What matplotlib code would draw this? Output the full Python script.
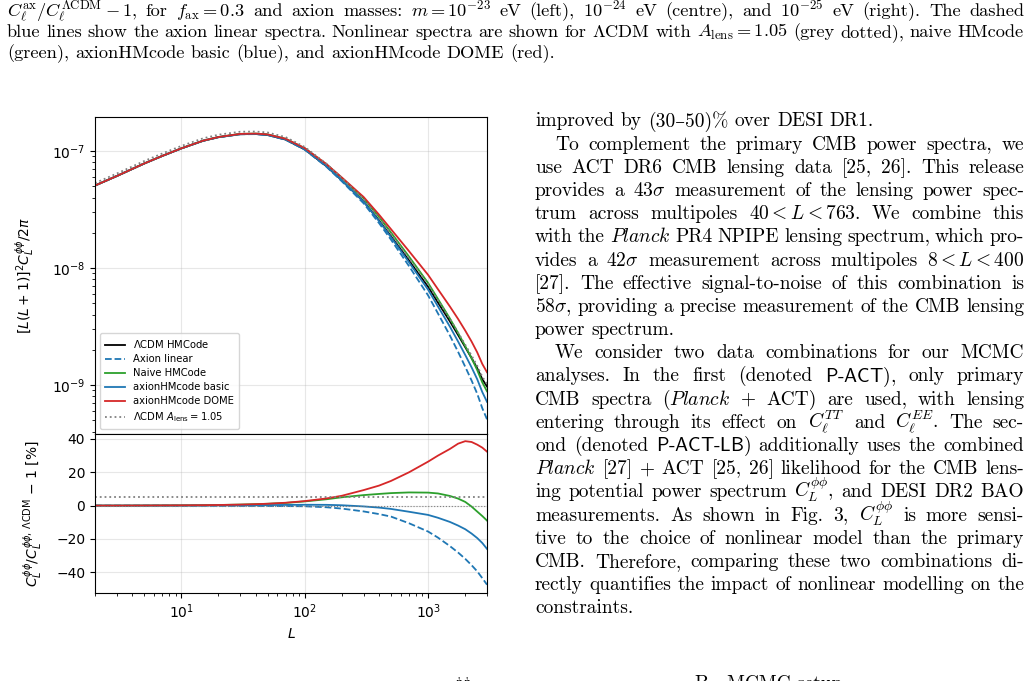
import matplotlib
matplotlib.use('Agg')
import matplotlib.pyplot as plt
import numpy as np

W, H = 1033, 681

# multipoles and the LCDM HMCode lensing spectrum [L(L+1)]^2 C_L / 2pi
L = np.array([2, 3, 5, 7, 10, 15, 20, 30, 40, 50, 70, 100, 150, 200, 300,
              400, 500, 700, 1000, 1200, 1500, 1750, 2000, 2250, 2500, 2750, 3000])
cl_lcdm = np.array([5.06e-8, 6.1e-8, 7.8e-8, 9.05e-8, 1.05e-7, 1.22e-7, 1.31e-7,
                    1.39e-7, 1.395e-7, 1.37e-7, 1.25e-7, 1.03e-7, 7.4e-8, 5.6e-8,
                    3.7e-8, 2.55e-8, 1.87e-8, 1.16e-8, 6.9e-9, 5.07e-9, 3.5e-9,
                    2.67e-9, 2.1e-9, 1.7e-9, 1.39e-9, 1.12e-9, 9.7e-10])

# percentage differences w.r.t. LCDM (bottom panel)
pct_axion_linear = np.array([0, 0, 0, 0, -0.05, -0.05, -0.1, -0.15, -0.2, -0.25, -0.3,
                             -0.4, -1.0, -1.8, -3.5, -5.1, -6.6, -10.6, -15.6, -19.2,
                             -24.3, -28.2, -32.0, -35.8, -39.5, -43.6, -47.5])
pct_naive = np.array([0, 0, 0.05, 0.1, 0.15, 0.25, 0.35, 0.6, 0.85, 1.1, 1.6, 2.5,
                      3.8, 5.0, 6.3, 7.0, 7.5, 7.9, 7.8, 7.3, 5.8, 4.2, 2.2, -0.6,
                      -3.6, -6.3, -9.0])
pct_basic = np.array([0, 0, 0, 0, 0, 0.05, 0.1, 0.15, 0.2, 0.3, 0.4, 0.5, 0.45,
                      0.2, -0.5, -1.2, -2.0, -3.7, -5.6, -7.3, -9.8, -12.0, -14.2,
                      -16.8, -19.5, -22.5, -26.0])
pct_dome = np.array([0, 0, 0.05, 0.1, 0.15, 0.25, 0.35, 0.6, 0.85, 1.1, 1.7, 2.7,
                     4.3, 5.9, 9.3, 12.0, 14.8, 20.0, 26.4, 30.0, 34.0, 37.2, 38.7,
                     38.2, 36.6, 34.8, 32.4])
alens = 1.05

labels = [r'$\Lambda$CDM HMCode', 'Axion linear', 'Naive HMCode',
          'axionHMcode basic', 'axionHMcode DOME', r'$\Lambda$CDM $A_{\rm lens} = 1.05$']

caption = [
    r"$C_\ell^{\mathrm{ax}}/C_\ell^{\Lambda\mathrm{CDM}}-1$, for $f_{\mathrm{ax}}=0.3$ and axion masses: "
    r"$m=10^{-23}$ eV (left), $10^{-24}$ eV (centre), and $10^{-25}$ eV (right). The dashed",
    r"blue lines show the axion linear spectra. Nonlinear spectra are shown for $\Lambda$CDM with "
    r"$A_{\mathrm{lens}}=1.05$ (grey dotted), naive HMcode",
    r"(green), axionHMcode basic (blue), and axionHMcode DOME (red).",
]

body = [
    r"improved by (30–50)% over DESI DR1.",
    r"To complement the primary CMB power spectra, we",
    r"use ACT DR6 CMB lensing data [25, 26]. This release",
    r"provides a $43\sigma$ measurement of the lensing power spec-",
    r"trum across multipoles $40<L<763$. We combine this",
    r"with the $\mathit{Planck}$ PR4 NPIPE lensing spectrum, which pro-",
    r"vides a $42\sigma$ measurement across multipoles $8<L<400$",
    r"[27]. The effective signal-to-noise of this combination is",
    r"$58\sigma$, providing a precise measurement of the CMB lensing",
    r"power spectrum.",
    r"We consider two data combinations for our MCMC",
    r"analyses. In the first (denoted $\mathsf{P}$-$\mathsf{ACT}$), only primary",
    r"CMB spectra ($\mathit{Planck}$ + ACT) are used, with lensing",
    r"entering through its effect on $C_\ell^{TT}$ and $C_\ell^{EE}$. The sec-",
    r"ond (denoted $\mathsf{P}$-$\mathsf{ACT}$-$\mathsf{LB}$) additionally uses the combined",
    r"$\mathit{Planck}$ [27] + ACT [25, 26] likelihood for the CMB lens-",
    r"ing potential power spectrum $C_L^{\phi\phi}$, and DESI DR2 BAO",
    r"measurements. As shown in Fig. 3, $C_L^{\phi\phi}$ is more sensi-",
    r"tive to the choice of nonlinear model than the primary",
    r"CMB. Therefore, comparing these two combinations di-",
    r"rectly quantifies the impact of nonlinear modelling on the",
    r"constraints.",
]
# lines that are not justified / lines that start a paragraph
body_ragged = {0, 9, 21}
body_indent = {1, 10}

fig = plt.figure(figsize=(W / 100, H / 100), dpi=100)
renderer = fig.canvas.get_renderer()
serif = ['cmr10', 'DejaVu Serif']


def put_line(text, y_px, x0, x1=None, size=14):
    words = text.split(' ')
    objs = [fig.text(0, 1 - y_px / H, w, fontsize=size, family=serif,
                     math_fontfamily='cm', va='baseline') for w in words]
    widths = [o.get_window_extent(renderer).width for o in objs]
    if x1 is None or len(words) == 1:
        gap = 0.333 * size * 100 / 72
    else:
        gap = (x1 - x0 - sum(widths)) / (len(words) - 1)
    x = x0
    for o, w in zip(objs, widths):
        o.set_x(x / W)
        x += w + gap


# caption over the figure
for i, line in enumerate(caption):
    put_line(line, 16.5 + 20.7 * i, 7, None if i == 2 else 1024, size=13.2)

# right column text
for i, line in enumerate(body):
    x0 = 555 if i in body_indent else 535
    put_line(line, 126.5 + 23.18 * i, x0, None if i in body_ragged else 1024, size=14)

# next page pieces, cut off at the bottom edge as in the page
fig.text(455 / W, 1 - 675 / H, r'$\ddagger\ddagger$', fontsize=9, math_fontfamily='cm', va='top')
fig.text(695 / W, 1 - 675 / H, 'B.  MCMC setup', fontsize=14, family=serif, va='top')

# the plot
ax1 = fig.add_axes([95 / W, 1 - 434 / H, 392 / W, 317 / H])
ax2 = fig.add_axes([95 / W, 1 - 593 / H, 392 / W, 159 / H], sharex=ax1)

lw = 1.3
ax1.loglog(L, cl_lcdm, color='k', lw=lw, label=labels[0])
ax1.loglog(L, cl_lcdm * (1 + pct_axion_linear / 100), '--', color='C0', lw=lw, label=labels[1])
ax1.loglog(L, cl_lcdm * (1 + pct_naive / 100), color='C2', lw=lw, label=labels[2])
ax1.loglog(L, cl_lcdm * (1 + pct_basic / 100), color='C0', lw=lw, label=labels[3])
ax1.loglog(L, cl_lcdm * (1 + pct_dome / 100), color='C3', lw=lw, label=labels[4])
ax1.loglog(L, cl_lcdm * alens, ':', color='gray', lw=lw, label=labels[5])

ax1.set_xlim(2, 3000)
ax1.set_ylim(3.81e-10, 1.95e-7)
ax1.grid(True, which='major', alpha=0.3)
ax1.tick_params(labelbottom=False, labelsize=10)
ax1.set_ylabel(r'$[L(L+1)]^2 C_L^{\phi\phi}/2\pi$', fontsize=10)
ax1.legend(loc='lower left', fontsize=7.2, borderpad=0.5, labelspacing=0.4)

ax2.semilogx(L, pct_axion_linear, '--', color='C0', lw=lw)
ax2.semilogx(L, pct_naive, color='C2', lw=lw)
ax2.semilogx(L, pct_basic, color='C0', lw=lw)
ax2.semilogx(L, pct_dome, color='C3', lw=lw)
ax2.axhline((alens - 1) * 100, ls=':', color='gray', lw=lw)
ax2.axhline(0, ls=':', color='gray', lw=0.8)
ax2.set_ylim(-52.5, 43)
ax2.set_yticks([-40, -20, 0, 20, 40])
ax2.grid(True, which='major', alpha=0.3)
ax2.tick_params(labelsize=10)
ax2.set_xlabel(r'$L$', fontsize=10)
ax2.set_ylabel(r'$C_L^{\phi\phi}/C_L^{\phi\phi,\,\Lambda\mathrm{CDM}}$ $-$ 1 [%]', fontsize=10)
ax1.yaxis.set_label_coords(-0.148, 0.5)
ax2.yaxis.set_label_coords(-0.128, 0.5)

fig.savefig('out.png', dpi=100)
